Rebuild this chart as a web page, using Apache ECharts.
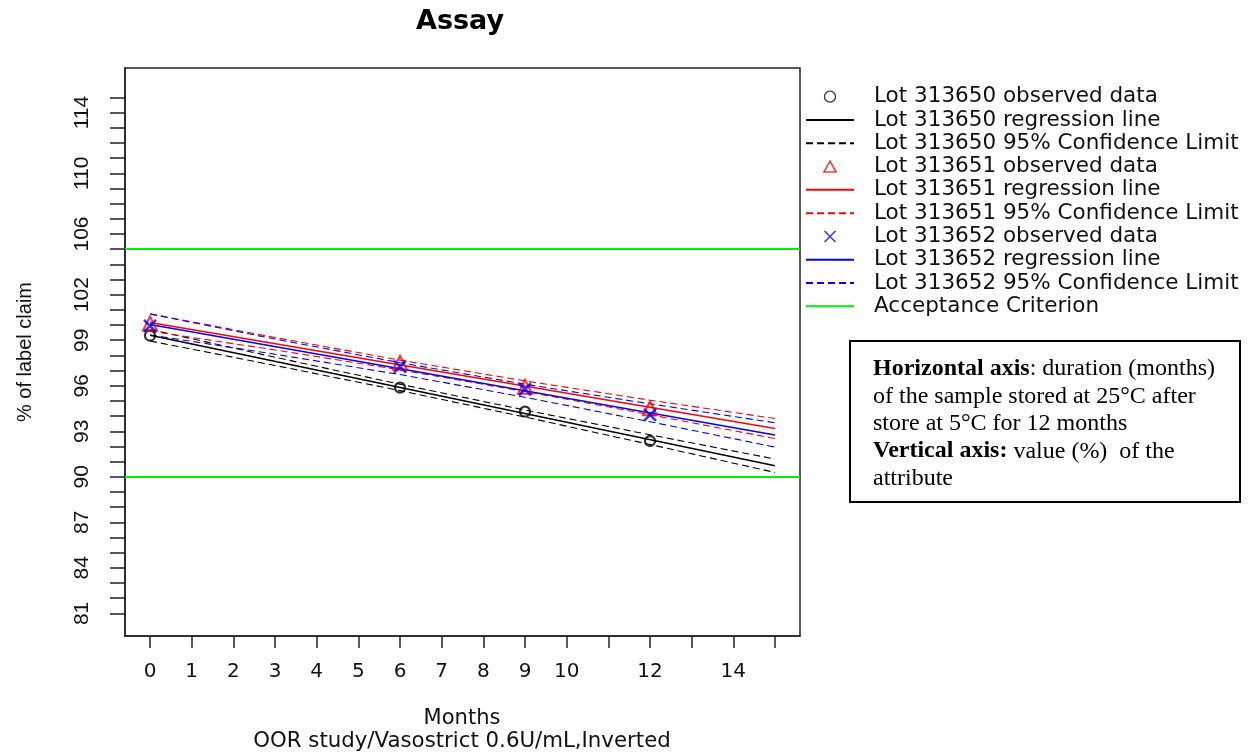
<!DOCTYPE html>
<html>
<head>
<meta charset="utf-8">
<title>Assay</title>
<script src="https://cdn.jsdelivr.net/npm/echarts@6/dist/echarts.min.js"></script>
<style>
  html, body { margin: 0; padding: 0; background: #fff; }
  #chart { width: 1255px; height: 755px; }
</style>
</head>
<body>
<div id="chart"></div>
<script>
// observed data
var months = [0, 6, 9, 12];
var lot650Obs = [99.30, 95.88, 94.29, 92.36];
var lot651Obs = [100.10, 97.52, 95.94, 94.52];
var lot652Obs = [99.95, 97.26, 95.77, 94.08];

// regression lines (start / end)
var fitMonths = [0, 15];
var lot650Fit = [99.33, 90.73];
var lot651Fit = [100.17, 93.18];
var lot652Fit = [100.04, 92.76];

// 95% confidence limits
var bandMonths = [0, 3, 6, 9, 12, 15];
var lot650Upper = [99.71, 97.88, 96.10, 94.40, 92.77, 91.17];
var lot650Lower = [98.95, 97.34, 95.68, 93.94, 92.13, 90.29];
var lot651Upper = [100.74, 99.18, 97.69, 96.32, 95.05, 93.84];
var lot651Lower = [99.60, 98.36, 97.05, 95.62, 94.09, 92.52];
var lot652Upper = [100.73, 99.08, 97.52, 96.10, 94.81, 93.56];
var lot652Lower = [99.35, 98.08, 96.74, 95.24, 93.63, 91.96];

// acceptance criterion
var specLimits = [90, 105];

// axis ticks and labels
var xTickValues = [0, 1, 2, 3, 4, 5, 6, 7, 8, 9, 10, 11, 12, 13, 14, 15];
var xLabelValues = [0, 1, 2, 3, 4, 5, 6, 7, 8, 9, 10, 12, 14];
var yTickValues = [81, 82, 83, 84, 85, 86, 87, 88, 89, 90, 91, 92, 93, 94, 95, 96, 97, 98,
  99, 100, 101, 102, 103, 104, 105, 106, 107, 108, 109, 110, 111, 112, 113, 114, 115];
var yLabelValues = [81, 84, 87, 90, 93, 96, 99, 102, 106, 110, 114];

var names = [
  "Lot 313650 observed data",
  "Lot 313650 regression line",
  "Lot 313650 95% Confidence Limit",
  "Lot 313651 observed data",
  "Lot 313651 regression line",
  "Lot 313651 95% Confidence Limit",
  "Lot 313652 observed data",
  "Lot 313652 regression line",
  "Lot 313652 95% Confidence Limit",
  "Acceptance Criterion"
];

var sansWide = "DejaVu Sans";
var sans = "Liberation Sans";
var serif = "Liberation Serif";
var crossPath = "path://M0,0L10,10M10,0L0,10";
var trianglePath = "path://M5,0L10,9L0,9Z";

function pairs(xs, ys) {
  return xs.map(function (x, i) { return [x, ys[i]]; });
}

function obsSeries(name, ys, symbol, size, color, bw) {
  return {
    name: name,
    type: "scatter",
    data: pairs(months, ys),
    symbol: symbol,
    symbolSize: size,
    itemStyle: { color: "transparent", borderColor: color, borderWidth: bw },
    z: 5
  };
}

function lineSeries(name, xs, ys, color, dashed) {
  return {
    name: name,
    type: "line",
    data: pairs(xs, ys),
    symbol: "none",
    silent: true,
    lineStyle: {
      color: color,
      width: dashed ? 1.1 : 1.5,
      type: dashed ? [7, 4] : "solid"
    },
    itemStyle: { color: color },
    z: dashed ? 2 : 3
  };
}

// legend entries: marker icons for observed data, bare lines for the rest
var hiddenDot = { color: "transparent", borderColor: "transparent", opacity: 0 };
var legendData = [
  { name: names[0], icon: "circle", itemStyle: { color: "transparent", borderColor: "#000", borderWidth: 1.3 } },
  { name: names[1], itemStyle: hiddenDot },
  { name: names[2], itemStyle: hiddenDot },
  { name: names[3], icon: trianglePath, itemStyle: { color: "transparent", borderColor: "#ff0000", borderWidth: 1.5 } },
  { name: names[4], itemStyle: hiddenDot },
  { name: names[5], itemStyle: hiddenDot },
  { name: names[6], icon: crossPath, itemStyle: { color: "transparent", borderColor: "#0000ff", borderWidth: 1.5 } },
  { name: names[7], itemStyle: hiddenDot },
  { name: names[8], itemStyle: hiddenDot },
  { name: names[9], itemStyle: hiddenDot }
];

var series = [
  obsSeries(names[0], lot650Obs, "circle", 10, "#000", 2.3),
  lineSeries(names[1], fitMonths, lot650Fit, "#000", false),
  lineSeries(names[2], bandMonths, lot650Upper, "#000", true),
  lineSeries(names[2], bandMonths, lot650Lower, "#000", true),
  obsSeries(names[3], lot651Obs, trianglePath, 14, "#ff0000", 2),
  lineSeries(names[4], fitMonths, lot651Fit, "#ff0000", false),
  lineSeries(names[5], bandMonths, lot651Upper, "#ff0000", true),
  lineSeries(names[5], bandMonths, lot651Lower, "#ff0000", true),
  obsSeries(names[6], lot652Obs, crossPath, 12, "#0000ff", 2.6),
  lineSeries(names[7], fitMonths, lot652Fit, "#0000ff", false),
  lineSeries(names[8], bandMonths, lot652Upper, "#0000ff", true),
  lineSeries(names[8], bandMonths, lot652Lower, "#0000ff", true),
  {
    name: names[9],
    type: "line",
    data: [],
    symbol: "none",
    lineStyle: { color: "#00ee00", width: 2 },
    itemStyle: { color: "#00ee00" },
    markLine: {
      silent: true,
      symbol: ["none", "none"],
      label: { show: false },
      lineStyle: { color: "#00ee00", width: 2.2, type: "solid" },
      data: specLimits.map(function (v) { return { yAxis: v }; })
    }
  }
];

var chart = echarts.init(document.getElementById("chart"));
var option = {
  animation: false,
  backgroundColor: "#fff",
  grid: {
    left: 125,
    right: 455,
    top: 68,
    bottom: 119,
    show: true,
    borderColor: "#222",
    borderWidth: 1.5,
    containLabel: false
  },
  legend: {
    orient: "vertical",
    left: 805,
    top: 85,
    padding: 0,
    itemWidth: 48,
    itemHeight: 11,
    itemGap: 0,
    symbolKeepAspect: true,
    selectedMode: false,
    data: legendData,
    textStyle: {
      fontFamily: sansWide,
      fontSize: 21.5,
      lineHeight: 23.3,
      color: "#111",
      padding: [0, 0, 0, 15]
    }
  },
  xAxis: {
    type: "value",
    min: -0.6,
    max: 15.6,
    axisLine: { show: true, onZero: false, lineStyle: { color: "#222", width: 1.5 } },
    axisTick: {
      show: true,
      length: 12,
      customValues: xTickValues,
      lineStyle: { color: "#222", width: 1.5 }
    },
    axisLabel: {
      customValues: xLabelValues,
      margin: 26,
      fontFamily: sansWide,
      fontSize: 20,
      color: "#111"
    },
    splitLine: { show: false }
  },
  yAxis: {
    type: "value",
    min: 79.51,
    max: 116.94,
    name: "% of label claim",
    nameLocation: "middle",
    nameGap: 90,
    nameTextStyle: { fontFamily: sans, fontSize: 20, color: "#111" },
    axisLine: { show: true, onZero: false, lineStyle: { color: "#222", width: 1.5 } },
    axisTick: {
      show: true,
      length: 15,
      customValues: yTickValues,
      lineStyle: { color: "#222", width: 1.5 }
    },
    axisLabel: {
      customValues: yLabelValues,
      rotate: 90,
      margin: 32,
      fontFamily: sans,
      fontSize: 21,
      color: "#111"
    },
    splitLine: { show: false }
  },
  graphic: [
    {
      type: "text",
      x: 460,
      y: 22,
      style: {
        text: "Assay",
        fontFamily: sansWide,
        fontWeight: "bold",
        fontSize: 27,
        fill: "#000",
        align: "center",
        verticalAlign: "middle"
      }
    },
    {
      type: "text",
      x: 462,
      y: 719,
      style: {
        text: "Months",
        fontFamily: sansWide,
        fontSize: 21,
        fill: "#111",
        align: "center",
        verticalAlign: "middle"
      }
    },
    {
      type: "text",
      x: 462,
      y: 741,
      style: {
        text: "OOR study/Vasostrict 0.6U/mL,Inverted",
        fontFamily: sansWide,
        fontSize: 21.3,
        fill: "#111",
        align: "center",
        verticalAlign: "middle"
      }
    },
    {
      type: "rect",
      shape: { x: 850, y: 341, width: 390, height: 161 },
      style: { fill: "#fff", stroke: "#000", lineWidth: 2 }
    },
    {
      type: "text",
      x: 873,
      y: 355,
      style: {
        text: "{b|Horizontal axis}: duration (months)\nof the sample stored at 25°C after\nstore at 5°C for 12 months\n{b|Vertical axis:} value (%)  of the\nattribute",
        fontFamily: serif,
        fontSize: 24,
        lineHeight: 27.5,
        fill: "#000",
        rich: {
          b: { fontFamily: serif, fontSize: 24, fontWeight: "bold", lineHeight: 27.5, fill: "#000" }
        }
      }
    }
  ],
  series: series
};
chart.setOption(option);
</script>
</body>
</html>
